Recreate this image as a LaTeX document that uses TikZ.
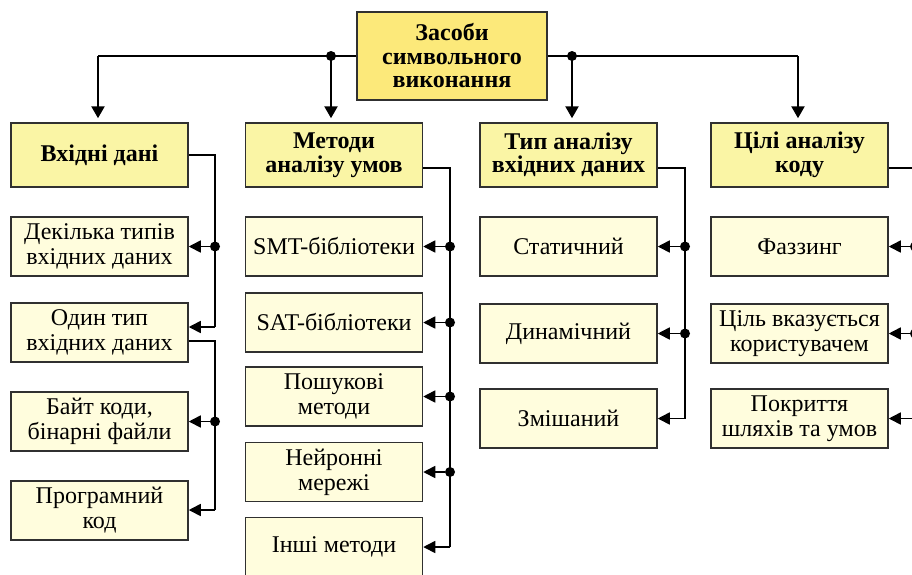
\documentclass[tikz,border=0pt]{standalone}
\usepackage{fontspec}
\setmainfont{Liberation Serif}
\usetikzlibrary{arrows.meta}
\definecolor{rootfill}{HTML}{FCE97A}
\definecolor{headfill}{HTML}{FAF5A5}
\definecolor{leaffill}{HTML}{FFFDDD}
\definecolor{edge}{HTML}{303030}
\begin{document}
\begin{tikzpicture}[x=1pt,y=-1pt,
  boxbase/.style={draw=edge,line width=1.5pt,rectangle,align=center,inner sep=0pt},
  rootbox/.style={boxbase,fill=rootfill,minimum width=190pt,minimum height=88pt,font=\fontsize{24}{23.5}\selectfont\bfseries},
  headbox/.style={boxbase,fill=headfill,minimum width=177pt,minimum height=64pt,font=\fontsize{24}{23.5}\selectfont\bfseries},
  leafbox/.style={boxbase,fill=leaffill,minimum width=177pt,minimum height=59pt,font=\fontsize{24}{25}\selectfont},
  topbus/.style={line width=2.4pt,black},
  bus/.style={line width=1.6pt,black},
  arr/.style={bus,-{Triangle[length=12pt,width=12pt]}},
  toparr/.style={topbus,-{Triangle[length=12pt,width=13pt]},shorten >=4pt},
  dot/.style={circle,fill=black,inner sep=0pt,minimum size=10pt}
]
\useasboundingbox (0,0) rectangle (912,574);

% root
\node[rootbox] (root) at (452,56) {Засоби\\символьного\\виконання};

% headers
\node[headbox] (h1) at (99.5,155) {Вхідні дані};
\node[headbox] (h2) at (334,155) {Методи\\аналізу умов};
\node[headbox] (h3) at (568.5,155) {Тип аналізу\\вхідних даних};
\node[headbox] (h4) at (799.5,155) {Цілі аналізу\\коду};

% column 1 leaves
\node[leafbox] (a1) at (99.5,246.5) {Декілька типів\\вхідних даних};
\node[leafbox] (a2) at (99.5,332.5) {Один тип\\вхідних даних};
\node[leafbox] (a3) at (99.5,421.5) {Байт коди,\\бінарні файли};
\node[leafbox] (a4) at (99.5,510.5) {Програмний\\код};

% column 2 leaves
\node[leafbox] (b1) at (334,246.5) {SMT-бібліотеки};
\node[leafbox] (b2) at (334,322.5) {SAT-бібліотеки};
\node[leafbox] (b3) at (334,396.5) {Пошукові\\методи};
\node[leafbox] (b4) at (334,472) {Нейронні\\мережі};
\node[leafbox] (b5) at (334,547) {Інші методи};

% column 3 leaves
\node[leafbox] (c1) at (568.5,246.5) {Статичний};
\node[leafbox] (c2) at (568.5,333.5) {Динамічний};
\node[leafbox] (c3) at (568.5,418.5) {Змішаний};

% column 4 leaves
\node[leafbox] (d1) at (799.5,246.5) {Фаззинг};
\node[leafbox] (d2) at (799.5,333.5) {Ціль вказується\\користувачем};
\node[leafbox] (d3) at (799.5,418.5) {Покриття\\шляхів та умов};

% top bus
\coordinate (t1) at (98,56);
\coordinate (t2) at (331,56);
\coordinate (t3) at (572,56);
\coordinate (t4) at (798,56);
\draw[topbus] (root.west) -- (t1);
\draw[topbus] (root.east) -- (t4);
\draw[toparr] (t1) -- (t1 |- h1.north);
\draw[toparr] (t2) -- (t2 |- h2.north);
\draw[toparr] (t3) -- (t3 |- h3.north);
\draw[toparr] (t4) -- (t4 |- h4.north);
\node[dot] (td2) at (t2) {};
\node[dot] (td3) at (t3) {};

% column 1 connectors
\coordinate (p1) at (215,327);
\coordinate (p2) at (215,341);
\coordinate (p3) at (215,510);
\draw[bus] (h1.east) -| (p1);
\draw[arr] (p1) -- (p1 -| a2.east);
\node[dot] (k1) at (215,246.5) {};
\draw[arr] (k1) -- (a1.east);
\draw[bus] (p2 -| a2.east) -- (p2) -- (p3);
\draw[arr] (p3) -- (p3 -| a4.east);
\node[dot] (k3) at (215,421.5) {};
\draw[arr] (k3) -- (a3.east);

% column 2 connectors
\coordinate (q0) at (450,168);
\coordinate (q5) at (450,547);
\draw[bus] (q0 -| h2.east) -- (q0) -- (q5);
\draw[arr] (q5) -- (b5.east);
\foreach \n/\yy in {b1/246.5,b2/322.5,b3/396.5,b4/472}{
  \node[dot] (m\n) at (450,\yy) {};
  \draw[arr] (m\n) -- (\n.east);
}

% column 3 connectors
\coordinate (r0) at (685,168);
\coordinate (r3) at (685,418.5);
\draw[bus] (r0 -| h3.east) -- (r0) -- (r3);
\draw[arr] (r3) -- (c3.east);
\foreach \n/\yy in {c1/246.5,c2/333.5}{
  \node[dot] (m\n) at (685,\yy) {};
  \draw[arr] (m\n) -- (\n.east);
}

% column 4 connectors (bus runs just past the right edge)
\coordinate (s0) at (915,168);
\coordinate (s3) at (915,418.5);
\draw[bus] (s0 -| h4.east) -- (s0) -- (s3);
\draw[arr] (s3) -- (d3.east);
\foreach \n/\yy in {d1/246.5,d2/333.5}{
  \node[dot] (m\n) at (915,\yy) {};
  \draw[arr] (m\n) -- (\n.east);
}
\end{tikzpicture}
\end{document}
